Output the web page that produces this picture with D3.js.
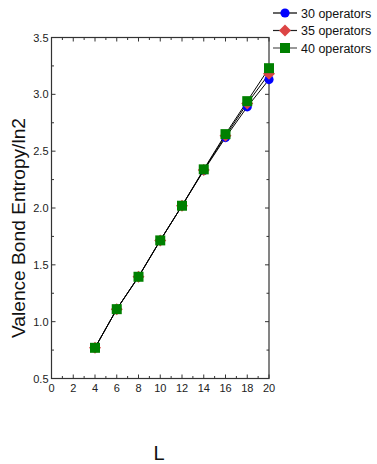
<!DOCTYPE html>
<html><head><meta charset="utf-8">
<script src="https://cdn.jsdelivr.net/npm/d3@7"></script>
<style>body{margin:0;background:#fff;} svg{display:block;font-family:"Liberation Sans",Arial,sans-serif;}</style>
</head><body>
<script>
const L = [4, 6, 8, 10, 12, 14, 16, 18, 20];
const ops30 = [0.77, 1.11, 1.395, 1.715, 2.02, 2.33, 2.62, 2.89, 3.13];
const ops35 = [0.77, 1.11, 1.395, 1.715, 2.02, 2.335, 2.635, 2.92, 3.18];
const ops40 = [0.77, 1.11, 1.395, 1.715, 2.02, 2.34, 2.65, 2.94, 3.23];
const seriesNames = ["30 operators", "35 operators", "40 operators"];
const seriesColors = ["#0000ff", "#dc4444", "#008000"];
const xTicks = [0, 2, 4, 6, 8, 10, 12, 14, 16, 18, 20];
const yTicks = [0.5, 1.0, 1.5, 2.0, 2.5, 3.0, 3.5];

const W = 377, H = 464;
const m = {left: 51.5, right: 269, top: 37.5, bottom: 378.5};
const svg = d3.select("body").append("svg").attr("width", W).attr("height", H);
const x = d3.scaleLinear().domain([0, 20]).range([m.left, m.right]);
const y = d3.scaleLinear().domain([0.5, 3.5]).range([m.bottom, m.top]);

const axisColor = "#333";
const g = svg.append("g");
g.append("rect").attr("x", m.left).attr("y", m.top).attr("width", m.right - m.left).attr("height", m.bottom - m.top)
  .attr("fill", "none").attr("stroke", axisColor).attr("stroke-width", 1.2);

const xMinor = d3.range(0, 21, 1);
const yMinor = d3.range(0.5, 3.51, 0.25);
xMinor.forEach(v => {
  const len = (v % 2 === 0) ? 4 : 2.5;
  g.append("line").attr("x1", x(v)).attr("x2", x(v)).attr("y1", m.bottom).attr("y2", m.bottom - len).attr("stroke", axisColor);
  g.append("line").attr("x1", x(v)).attr("x2", x(v)).attr("y1", m.top).attr("y2", m.top + len).attr("stroke", axisColor);
});
yMinor.forEach(v => {
  const major = Math.abs((v * 2) - Math.round(v * 2)) < 1e-6;
  const len = major ? 4 : 2.5;
  g.append("line").attr("y1", y(v)).attr("y2", y(v)).attr("x1", m.left).attr("x2", m.left + len).attr("stroke", axisColor);
  g.append("line").attr("y1", y(v)).attr("y2", y(v)).attr("x1", m.right).attr("x2", m.right - len).attr("stroke", axisColor);
});
xTicks.forEach(v => {
  g.append("text").attr("x", x(v)).attr("y", m.bottom + 13).attr("text-anchor", "middle")
    .attr("font-size", 11).attr("fill", "#222").text(v);
});
yTicks.forEach(v => {
  g.append("text").attr("x", m.left - 3).attr("y", y(v) + 4).attr("text-anchor", "end")
    .attr("font-size", 11).attr("fill", "#222").text(v.toFixed(1));
});

svg.append("text").attr("x", 159).attr("y", 460).attr("text-anchor", "middle").attr("font-size", 20).attr("fill", "#111").text("L");
svg.append("text").attr("transform", "translate(25,228) rotate(-90)").attr("text-anchor", "middle")
  .attr("font-size", 18.5).attr("textLength", 220).attr("lengthAdjust", "spacingAndGlyphs")
  .attr("fill", "#111").text("Valence Bond Entropy/ln2");

const allSeries = [ops30, ops35, ops40];
const line = d3.line().x((d, i) => x(L[i])).y(d => y(d));
allSeries.forEach((s, k) => {
  svg.append("path").attr("d", line(s)).attr("fill", "none").attr("stroke", "#000").attr("stroke-width", 1);
});
function marker(sel, k, cx, cy) {
  if (k === 0) sel.append("circle").attr("cx", cx).attr("cy", cy).attr("r", 4.6).attr("fill", seriesColors[0]);
  else if (k === 1) sel.append("path").attr("d", `M${cx},${cy-6}L${cx+6},${cy}L${cx},${cy+6}L${cx-6},${cy}Z`).attr("fill", seriesColors[1]);
  else sel.append("rect").attr("x", cx - 5).attr("y", cy - 5).attr("width", 10).attr("height", 10).attr("fill", seriesColors[2]);
}
allSeries.forEach((s, k) => {
  const gg = svg.append("g");
  s.forEach((v, i) => marker(gg, k, x(L[i]), y(v)));
});

const legColors = ["#000", "#222", "#555"];
seriesNames.forEach((n, k) => {
  const ly = 13 + k * 17.5;
  svg.append("line").attr("x1", 273).attr("x2", 297).attr("y1", ly).attr("y2", ly).attr("stroke", legColors[k]).attr("stroke-width", 1.2);
  marker(svg, k, 285, ly);
  svg.append("text").attr("x", 301).attr("y", ly + 4.5).attr("font-size", 12.5).attr("fill", "#111").text(n);
});
</script>
</body></html>
